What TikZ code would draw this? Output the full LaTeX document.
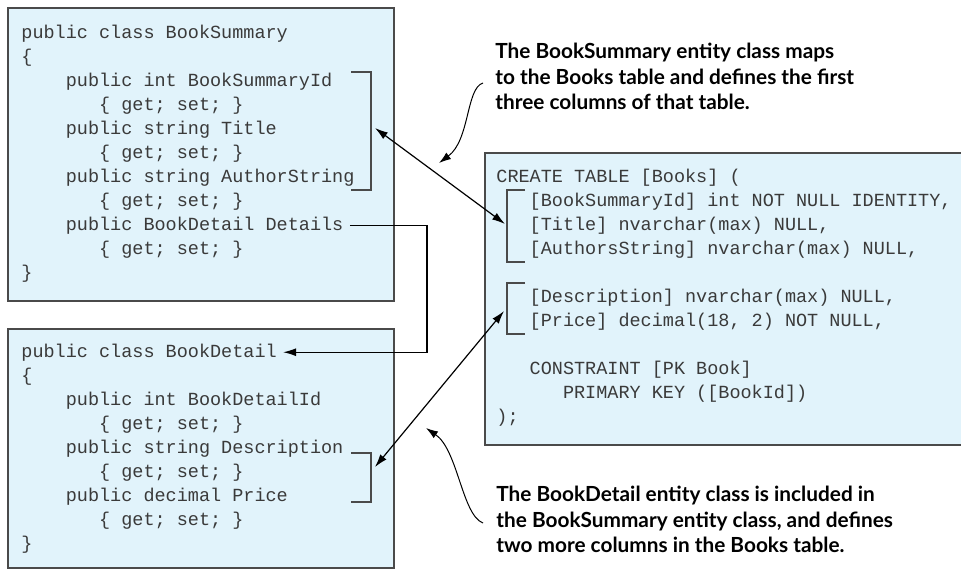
\documentclass[tikz,border=0pt]{standalone}
\usepackage{fontspec}
\setmonofont{Liberation Mono}
\newfontfamily\notefont{Lato}
\usepackage{tikz}
\usetikzlibrary{arrows.meta}
\definecolor{boxblue}{HTML}{E1F3FB}
\definecolor{boxline}{HTML}{4A4A4A}
\definecolor{codegray}{HTML}{3A3A3A}

\tikzset{
  codebox/.style={draw=boxline, line width=0.8pt, fill=boxblue, anchor=north west, inner sep=0pt},
  codeline/.style={anchor=base west, inner xsep=3pt, inner ysep=0pt, text=codegray,
    font=\ttfamily\fontsize{9.25}{11}\selectfont},
  bracket/.style={draw=boxline, line width=0.65pt},
  link/.style={line width=0.6pt, {Latex[length=6.5pt,width=4pt]}-{Latex[length=6.5pt,width=4pt]}},
  feed/.style={line width=0.6pt, -{Latex[length=6.5pt,width=4pt]}},
  pointer/.style={line width=0.5pt, -{Latex[length=6pt,width=4pt]}},
  note/.style={anchor=north west, inner sep=0pt, align=left,
    font=\notefont\bfseries\fontsize{10.4}{12.75}\selectfont}
}

\begin{document}
\begin{tikzpicture}[x=0.5pt, y=-0.5pt]
  \useasboundingbox (0,0) rectangle (961,568);

  % the three code boxes
  \node[codebox, minimum width=193pt, minimum height=146.5pt] (summary) at (7,7) {};
  \node[codebox, minimum width=193pt, minimum height=119.5pt] (detail) at (7,328) {};
  \node[codebox, minimum width=243pt, minimum height=146pt] (books) at (484,152) {};

  % BookSummary class
  \foreach \ind/\txt [count=\i] in {0/public class BookSummary, 0/\{,
      4/public int BookSummaryId, 7/\{ get; set; \}, 4/public string Title,
      7/\{ get; set; \}, 4/public string AuthorString, 7/\{ get; set; \},
      4/public BookDetail Details, 7/\{ get; set; \}, 0/\}}
    \node[codeline] (sum-\i) at (15+\ind*11.1, 14+24*\i) {\txt};

  % BookDetail class
  \foreach \ind/\txt [count=\i] in {0/public class BookDetail, 0/\{,
      4/public int BookDetailId, 7/\{ get; set; \}, 4/public string Description,
      7/\{ get; set; \}, 4/public decimal Price, 7/\{ get; set; \}, 0/\}}
    \node[codeline] (det-\i) at (15+\ind*11.1, 333+24*\i) {\txt};

  % Books table
  \foreach \row/\ind/\txt in {1/0/CREATE TABLE [Books] (,
      {2/3/[BookSummaryId] int NOT NULL IDENTITY,},
      {3/3/[Title] nvarchar(max) NULL,},
      {4/3/[AuthorsString] nvarchar(max) NULL,},
      {6/3/[Description] nvarchar(max) NULL,},
      {7/3/[Price] decimal(18, 2) NOT NULL,},
      9/3/CONSTRAINT [PK Book],
      10/6/PRIMARY KEY ([BookId]),
      11/0/);}
    \node[codeline] (sql-\row) at (490+\ind*11.1, 158+24*\row) {\txt};

  % brackets
  \draw[bracket] (351,72) -| (371,190) -- (351,190);
  \draw[bracket] (351,453) -| (371,502) -- (351,502);
  \draw[bracket] (525,190) -| (507,262) -- (525,262);
  \draw[bracket] (525,283) -| (507,334) -- (525,334);

  % column links
  \coordinate (sumtip) at (375,128);
  \coordinate (sqltipA) at (505,224);
  \coordinate (dettip) at (375,467);
  \coordinate (sqltipB) at (504,311);
  \draw[link] (sumtip) -- (sqltipA);
  \draw[link] (dettip) -- (sqltipB);

  % Details property -> BookDetail class
  \coordinate (elbow) at (427,0);
  \draw[feed] (sum-9.east) -- (sum-9.east -| elbow) |- (det-1.east);

  % notes
  \node[note] (mapnote) at (495,43) {The BookSummary entity class maps\\to the Books table and defines the first\\three columns of that table.};
  \node[note] (incnote) at (496,486) {The BookDetail entity class is included in\\the BookSummary entity class, and defines\\two more columns in the Books table.};

  \coordinate (mapfrom) at (483,83);
  \coordinate (maptip) at (439,163);
  \coordinate (incfrom) at (483,523);
  \coordinate (inctip) at (426,428);
  \draw[pointer] (mapfrom) .. controls (466,88) and (470,140) .. (maptip);
  \draw[pointer] (incfrom) .. controls (462,515) and (458,450) .. (inctip);
\end{tikzpicture}
\end{document}
